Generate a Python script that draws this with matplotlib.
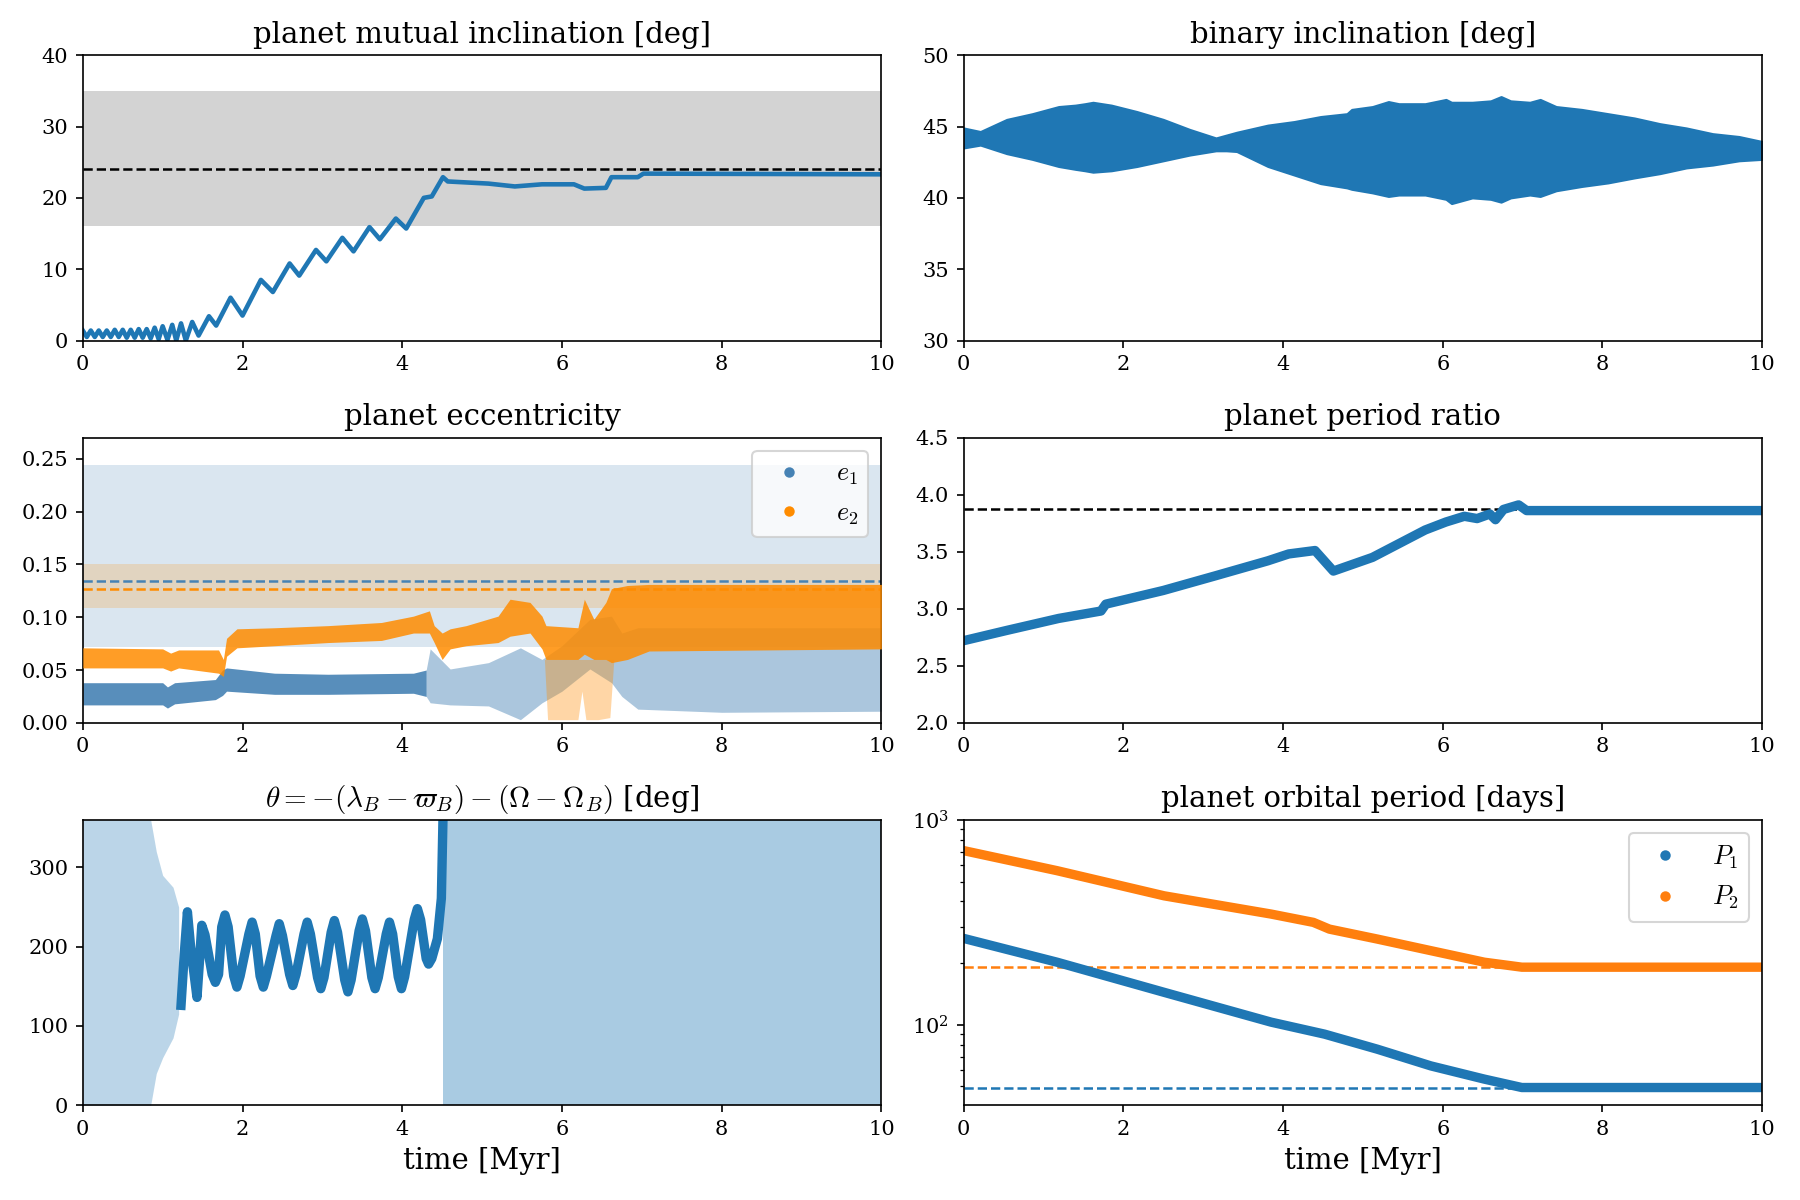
import numpy as np
import matplotlib.pyplot as plt
from matplotlib.lines import Line2D

plt.rcParams['font.family'] = 'serif'
plt.rcParams['mathtext.fontset'] = 'cm'

# planet mutual inclination [deg] (peaks / troughs)
mi_t = [0.00, 0.05, 0.10, 0.15, 0.20, 0.25, 0.30, 0.35, 0.40, 0.45, 0.50, 0.55,
        0.60, 0.65, 0.70, 0.75, 0.80, 0.85, 0.90, 0.95, 1.00, 1.06, 1.12, 1.17,
        1.23, 1.29, 1.37, 1.45, 1.58, 1.67, 1.85, 2.00, 2.23, 2.38, 2.59, 2.71,
        2.92, 3.05, 3.25, 3.39, 3.59, 3.72, 3.92, 4.05, 4.27, 4.37, 4.51, 4.57,
        5.08, 5.41, 5.75, 6.15, 6.28, 6.55, 6.62, 6.95, 7.02, 10.0]
mi_v = [1.4, 0.5, 1.4, 0.5, 1.4, 0.5, 1.4, 0.5, 1.5, 0.5, 1.5, 0.4,
        1.5, 0.4, 1.6, 0.4, 1.6, 0.3, 1.8, 0.2, 2.0, 0.1, 2.2, 0.0,
        2.4, 0.0, 2.6, 0.7, 3.4, 2.1, 6.0, 3.5, 8.5, 6.8, 10.8, 9.1,
        12.7, 11.1, 14.4, 12.5, 15.9, 14.2, 17.1, 15.7, 20.0, 20.2, 22.9, 22.3,
        22.0, 21.6, 21.9, 21.9, 21.3, 21.4, 22.9, 22.9, 23.4, 23.3]
mi_obs = 24.0
mi_band = (16.0, 35.0)

# binary inclination [deg], envelope of the fast oscillation
bi_t = [0.00, 0.21, 0.54, 0.86, 1.19, 1.40, 1.52, 1.62, 1.85, 2.17, 2.50, 2.83, 3.16,
        3.29, 3.42, 3.81, 4.14, 4.47, 4.80, 4.86, 5.12, 5.32, 5.45, 5.78, 6.04, 6.11,
        6.37, 6.60, 6.73, 6.85, 7.09, 7.22, 7.42, 7.74, 8.07, 8.40, 8.72, 9.05, 9.38,
        9.71, 10.0]
bi_hi = [44.9, 44.65, 45.5, 45.9, 46.4, 46.5, 46.6, 46.7, 46.5, 46.05, 45.5, 44.8, 44.2,
         44.4, 44.6, 45.1, 45.35, 45.7, 45.9, 46.2, 46.4, 46.75, 46.6, 46.6, 46.9, 46.7,
         46.7, 46.8, 47.1, 46.8, 46.7, 46.9, 46.4, 46.2, 45.9, 45.6, 45.2, 44.9, 44.5,
         44.3, 43.95]
bi_lo = [43.5, 43.7, 43.1, 42.7, 42.2, 42.0, 41.9, 41.8, 41.9, 42.2, 42.6, 43.0, 43.3,
         43.3, 43.25, 42.2, 41.6, 41.0, 40.7, 40.6, 40.35, 40.1, 40.2, 40.2, 39.9, 39.6,
         40.0, 39.9, 39.7, 40.0, 40.2, 40.1, 40.5, 40.8, 41.05, 41.4, 41.7, 42.1, 42.3,
         42.6, 42.7]

# planet eccentricity: band envelopes of the scattered points
e1_t = [0.00, 1.00, 1.06, 1.15, 1.66, 1.75, 1.80, 2.40, 3.07, 4.14, 4.30]
e1_hi = [0.038, 0.038, 0.034, 0.038, 0.041, 0.050, 0.052, 0.047, 0.046, 0.047, 0.050]
e1_lo = [0.017, 0.017, 0.014, 0.018, 0.022, 0.026, 0.030, 0.027, 0.027, 0.028, 0.025]
e1s_t = [4.30, 4.35, 4.60, 5.08, 5.48, 5.75, 6.00, 6.35, 6.62, 6.75, 6.95, 8.00, 10.0]
e1s_hi = [0.050, 0.070, 0.051, 0.057, 0.071, 0.060, 0.073, 0.098, 0.101, 0.085, 0.090, 0.090, 0.090]
e1s_lo = [0.025, 0.019, 0.017, 0.016, 0.003, 0.019, 0.030, 0.051, 0.038, 0.025, 0.013, 0.010, 0.011]
e2_t = [0.00, 1.00, 1.10, 1.20, 1.70, 1.76, 1.80, 1.93, 2.40, 3.07, 3.74, 4.14, 4.34,
        4.40, 4.50, 4.60, 4.80, 5.20, 5.35, 5.60, 5.75, 5.80, 6.20, 6.28, 6.40, 6.55,
        6.62, 6.82, 7.09, 10.0]
e2_hi = [0.071, 0.070, 0.066, 0.069, 0.069, 0.060, 0.080, 0.089, 0.090, 0.092, 0.095,
         0.101, 0.106, 0.092, 0.085, 0.089, 0.092, 0.101, 0.117, 0.114, 0.101, 0.092,
         0.090, 0.117, 0.098, 0.114, 0.127, 0.130, 0.131, 0.131]
e2_lo = [0.052, 0.052, 0.049, 0.052, 0.047, 0.044, 0.063, 0.071, 0.073, 0.076, 0.078,
         0.085, 0.085, 0.076, 0.060, 0.070, 0.073, 0.076, 0.082, 0.085, 0.070, 0.060,
         0.060, 0.065, 0.060, 0.060, 0.057, 0.060, 0.068, 0.070]
e2s_t = [5.78, 5.82, 6.20, 6.25, 6.30, 6.45, 6.60, 6.65]
e2s_hi = [0.060, 0.060, 0.060, 0.060, 0.060, 0.060, 0.060, 0.060]
e2s_lo = [0.060, 0.003, 0.003, 0.030, 0.003, 0.003, 0.005, 0.060]
e1_obs, e1_band = 0.1345, (0.072, 0.244)
e2_obs, e2_band = 0.127, (0.1086, 0.1505)

# planet period ratio
pr_t = [0.00, 0.54, 1.19, 1.72, 1.78, 2.50, 3.16, 3.81, 4.07, 4.40, 4.63, 5.12, 5.45,
        5.78, 6.04, 6.27, 6.43, 6.59, 6.66, 6.76, 6.95, 7.05, 10.0]
pr_v = [2.72, 2.81, 2.915, 2.98, 3.04, 3.16, 3.29, 3.42, 3.48, 3.51, 3.33, 3.45, 3.57,
        3.69, 3.76, 3.81, 3.79, 3.83, 3.78, 3.87, 3.91, 3.86, 3.86]
pr_obs = 3.87

# resonant angle theta [deg]
th_lib_t = [1.23, 1.27, 1.31, 1.35, 1.43, 1.46, 1.49, 1.53, 1.62, 1.66, 1.70, 1.74,
            1.78, 1.82, 1.89, 1.93, 1.97, 2.08, 2.12, 2.16, 2.22, 2.26, 2.30, 2.42,
            2.46, 2.50, 2.59, 2.63, 2.67, 2.77, 2.81, 2.85, 2.94, 2.98, 3.02, 3.11,
            3.15, 3.19, 3.28, 3.32, 3.36, 3.46, 3.50, 3.54, 3.62, 3.66, 3.70, 3.80,
            3.84, 3.88, 3.95, 3.99, 4.03, 4.15, 4.19, 4.23, 4.30, 4.33, 4.37, 4.44,
            4.49, 4.51]
th_lib_v = [126, 190, 244, 200, 136, 180, 227, 215, 165, 155, 165, 225,
            240, 225, 163, 149, 163, 216, 231, 216, 163, 149, 163, 214,
            229, 214, 165, 151, 165, 216, 231, 216, 161, 147, 161, 218,
            233, 218, 158, 143, 158, 220, 235, 220, 161, 147, 161, 216,
            231, 216, 162, 147, 162, 234, 248, 234, 185, 178, 185, 210,
            261, 360]
th_early_t = [0.00, 0.85, 0.92, 1.00, 1.13, 1.20]
th_early_hi = [360, 360, 320, 290, 275, 250]
th_early_lo = [0, 0, 40, 60, 85, 115]
th_circ_t = [4.51, 10.0]

# planet orbital periods [days]
p2_t = [0.00, 1.17, 2.51, 3.85, 4.38, 4.58, 5.18, 5.85, 6.52, 6.99, 10.0]
p2_v = [708, 565, 426, 347, 316, 293, 262, 230, 202, 191, 191]
p1_t = [0.00, 1.17, 2.51, 3.85, 4.52, 5.18, 5.85, 6.52, 6.99, 10.0]
p1_v = [264, 202, 144, 103, 90, 76, 63, 54.3, 49.4, 49.4]
p1_obs, p2_obs = 49.4, 191.0

fig, axes = plt.subplots(3, 2, figsize=(12, 8), dpi=150)
fig.subplots_adjust(left=0.046, right=0.979, top=0.954, bottom=0.079,
                    hspace=0.34, wspace=0.103)

title_fs = 14
tick_fs = 10
leg_fs = 12.5

# panel 1
ax = axes[0, 0]
ax.axhspan(*mi_band, color='lightgray', lw=0, zorder=0)
ax.axhline(mi_obs, color='k', ls='--', lw=1.2, zorder=1)
ax.plot(mi_t, mi_v, color='C0', lw=2.2, solid_joinstyle='round', zorder=2)
ax.set_ylim(0, 40)
ax.set_title('planet mutual inclination [deg]', fontsize=title_fs)

# panel 2
ax = axes[0, 1]
ax.fill_between(bi_t, bi_lo, bi_hi, color='C0', lw=1)
ax.set_ylim(30, 50)
ax.set_title('binary inclination [deg]', fontsize=title_fs)

# panel 3
ax = axes[1, 0]
ax.axhspan(*e1_band, color='steelblue', alpha=0.2, lw=0, zorder=0)
ax.axhspan(*e2_band, color='darkorange', alpha=0.2, lw=0, zorder=0)
ax.axhline(e1_obs, color='steelblue', ls='--', lw=1.2, zorder=1)
ax.axhline(e2_obs, color='darkorange', ls='--', lw=1.2, zorder=1)
ax.fill_between(e1_t, e1_lo, e1_hi, color='steelblue', alpha=0.9, lw=0, zorder=2)
ax.fill_between(e1s_t, e1s_lo, e1s_hi, color='steelblue', alpha=0.45, lw=0, zorder=2)
ax.fill_between(e2s_t, e2s_lo, e2s_hi, color='darkorange', alpha=0.35, lw=0, zorder=3)
ax.fill_between(e2_t, e2_lo, e2_hi, color='darkorange', alpha=0.85, lw=0, zorder=3)
ax.set_ylim(0, 0.27)
ax.set_yticks([0, 0.05, 0.10, 0.15, 0.20, 0.25])
ax.yaxis.set_major_formatter(plt.FormatStrFormatter('%.2f'))
handles = [Line2D([], [], ls='none', marker='o', ms=4, color='steelblue'),
           Line2D([], [], ls='none', marker='o', ms=4, color='darkorange')]
ax.legend(handles, ['$e_1$', '$e_2$'], loc='upper right', fontsize=leg_fs)
ax.set_title('planet eccentricity', fontsize=title_fs)

# panel 4
ax = axes[1, 1]
ax.axhline(pr_obs, color='k', ls='--', lw=1.2, zorder=1)
ax.plot(pr_t, pr_v, color='C0', lw=4.5, solid_joinstyle='round', zorder=2)
ax.set_ylim(2.0, 4.5)
ax.set_title('planet period ratio', fontsize=title_fs)

# panel 5
ax = axes[2, 0]
ax.fill_between(th_early_t, th_early_lo, th_early_hi, color='C0', alpha=0.3, lw=0)
ax.fill_between(th_circ_t, [0, 0], [360, 360], color='C0', alpha=0.38, lw=0)
ax.plot(th_lib_t, th_lib_v, color='C0', lw=4.5, solid_joinstyle='round')
ax.set_ylim(0, 360)
ax.set_yticks([0, 100, 200, 300])
ax.set_title(r'$\theta = -(\lambda_B - \varpi_B) - (\Omega - \Omega_B)$ [deg]', fontsize=title_fs)
ax.set_xlabel('time [Myr]', fontsize=14)

# panel 6
ax = axes[2, 1]
ax.axhline(p2_obs, xmax=0.7, color='C1', ls='--', lw=1.2, zorder=1)
ax.axhline(p1_obs, xmax=0.7, color='C0', ls='--', lw=1.2, zorder=1)
ax.plot(p1_t, p1_v, color='C0', lw=4.5, solid_joinstyle='round', zorder=2)
ax.plot(p2_t, p2_v, color='C1', lw=4.5, solid_joinstyle='round', zorder=2)
ax.set_yscale('log')
ax.set_ylim(40.5, 1000)
handles = [Line2D([], [], ls='none', marker='o', ms=4, color='C0'),
           Line2D([], [], ls='none', marker='o', ms=4, color='C1')]
ax.legend(handles, ['$P_1$', '$P_2$'], loc='upper right', fontsize=leg_fs)
ax.set_title('planet orbital period [days]', fontsize=title_fs)
ax.set_xlabel('time [Myr]', fontsize=14)

for ax in axes.flat:
    ax.set_xlim(0, 10)
    ax.set_xticks([0, 2, 4, 6, 8, 10])
    ax.tick_params(labelsize=tick_fs)

plt.savefig('out.png', dpi=150)
